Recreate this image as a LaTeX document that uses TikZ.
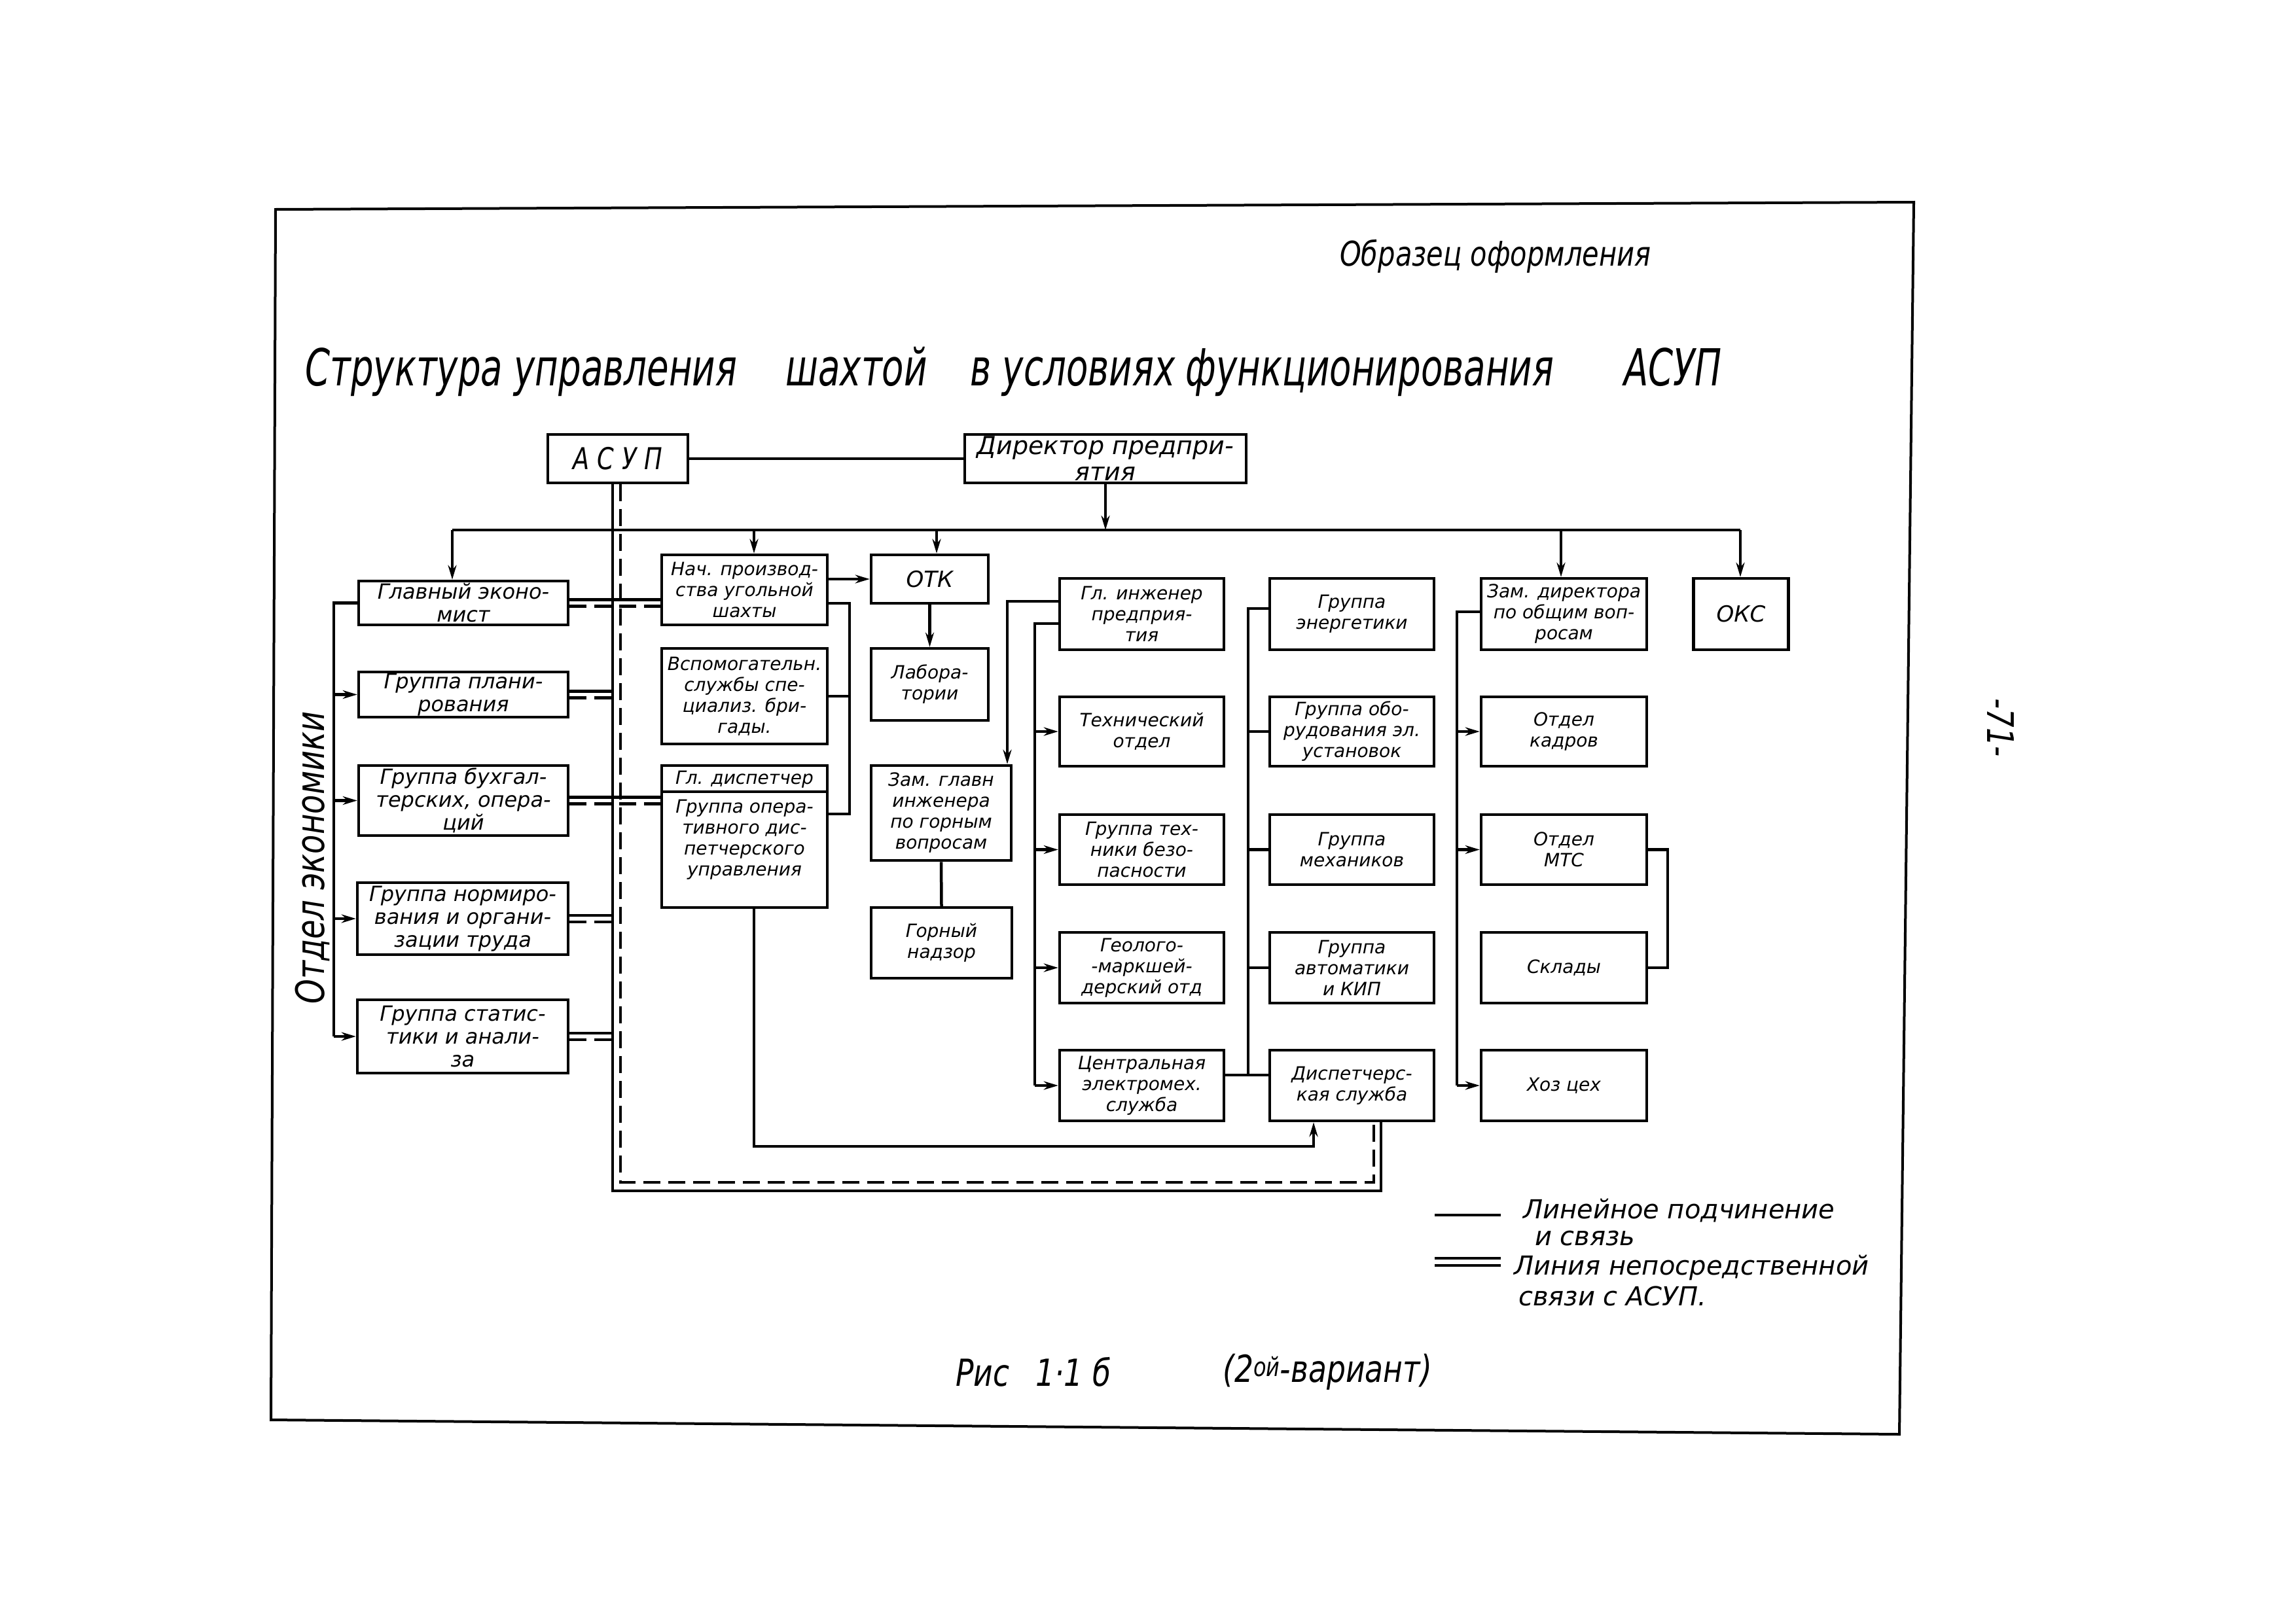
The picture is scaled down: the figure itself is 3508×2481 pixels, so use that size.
\documentclass[tikz,border=0pt]{standalone}
\usepackage{fontspec}
\setmainfont{DejaVu Sans}
\newfontfamily\cndfont{DejaVu Sans}[FakeStretch=0.8]
\newfontfamily\ttlfont{DejaVu Sans}[FakeStretch=0.7]
\usetikzlibrary{arrows.meta,calc}
\newcommand\fntA{\fontsize{32}{35}\selectfont\itshape}
\newcommand\fntB{\fontsize{28}{32}\selectfont\itshape}
\newcommand\fntC{\fontsize{38}{40}\selectfont\itshape}
\begin{document}
\begin{tikzpicture}[x=1pt,y=-1pt,
  boxA/.style={draw,line width=4.5pt,inner sep=0pt,align=center,font=\fntA},
  boxB/.style={draw,line width=4.5pt,inner sep=0pt,align=center,font=\fntB},
  txtB/.style={inner sep=0pt,align=center,font=\fntB},
  ln/.style={line width=4.5pt},
  dsh/.style={line width=4.5pt,dash pattern=on 26pt off 12pt},
  arr/.style={line width=4.5pt,-{Stealth[length=22pt,width=13pt]}},
  lbl/.style={inner sep=0pt,anchor=west,font=\fontsize{40}{44}\selectfont\itshape}]
\fill[white] (0,0) rectangle (3508,2481);
\useasboundingbox (0,0) rectangle (3508,2481);
% frame
\draw[line width=4pt] (421,320) -- (2924,309) -- (2902,2192) -- (414,2170) -- cycle;
% headings
\node[inner sep=0pt,anchor=west,font=\cndfont\fontsize{52}{56}\selectfont\itshape] (obr) at (2047,392) {Образец оформления};
\node[inner sep=0pt,anchor=west,font=\ttlfont\fontsize{78}{84}\selectfont\itshape] (title) at (466,568)
  {Структура\hspace{17pt}управления\hspace{74pt}шахтой\hspace{66pt}в\hspace{17pt}условиях\hspace{16pt}функционирования\hspace{107pt}АСУП};
\node[inner sep=0pt,rotate=-90,font=\cndfont\fontsize{56}{60}\selectfont\itshape] (pg) at (3057,1112) {-71-};
\node[inner sep=0pt,rotate=90,font=\cndfont\fontsize{60}{64}\selectfont\itshape] (otdel) at (477,1311) {Отдел экономики};
% top boxes
\node[draw,line width=4.5pt,inner sep=0pt,font=\cndfont\fontsize{46}{50}\selectfont\itshape,minimum width=214pt,minimum height=74pt] (asup) at (944,701) {А С У П};
\node[draw,line width=4.5pt,inner sep=0pt,align=center,font=\fntC,minimum width=430pt,minimum height=74pt] (dir) at (1689,701) {Директор предпри-\\ятия};
% economics column
\node[boxA,minimum width=320pt,minimum height=67pt] (ge) at (708,921.5) {Главный эконо-\\мист};
\node[boxA,minimum width=320pt,minimum height=69pt] (gp) at (708,1061.5) {Группа плани-\\рования};
\node[boxA,minimum width=320pt,minimum height=107pt] (gb) at (708,1223.5) {Группа бухгал-\\терских, опера-\\ций};
\node[boxA,minimum width=322pt,minimum height=110pt] (gn) at (707,1404) {Группа нормиро-\\вания и органи-\\зации труда};
\node[boxA,minimum width=322pt,minimum height=112pt] (gs) at (707,1584) {Группа статис-\\тики и анали-\\за};
% production column
\node[boxB,minimum width=253pt,minimum height=107pt] (np) at (1137.5,901.5) {Нач. производ-\\ства угольной\\шахты};
\node[boxB,minimum width=253pt,minimum height=146pt] (vs) at (1137.5,1064) {Вспомогательн.\\службы спе-\\циализ. бри-\\гады.};
\node[boxB,minimum width=253pt,minimum height=217pt] (gd) at (1137.5,1278.5) {};
\draw[ln] ($(gd.north west)+(0,42)$) -- ($(gd.north east)+(0,42)$);
\node[txtB] (gdt) at (1137.5,1191) {Гл. диспетчер};
\node[txtB,anchor=north] (gdb) at (1137.5,1222) {Группа опера-\\тивного дис-\\петчерского\\управления};
% OTK column
\node[boxB,font=\fontsize{34}{36}\selectfont\itshape,minimum width=179pt,minimum height=74pt] (otk) at (1420.5,885) {ОТК};
\node[boxB,minimum width=179pt,minimum height=110pt] (lab) at (1420.5,1046) {Лабора-\\тории};
\node[boxB,minimum width=214pt,minimum height=145pt] (zgi) at (1438,1242.5) {Зам. главн\\инженера\\по горным\\вопросам};
\node[boxB,minimum width=215pt,minimum height=108pt] (gnz) at (1438.5,1441) {Горный\\надзор};
% chief engineer column
\node[boxB,minimum width=251pt,minimum height=109pt] (gi) at (1744.5,938.5) {Гл. инженер\\предприя-\\тия};
\node[boxB,minimum width=251pt,minimum height=106pt] (tex) at (1744.5,1118) {Технический\\отдел};
\node[boxB,minimum width=251pt,minimum height=107pt] (gtb) at (1744.5,1298.5) {Группа тех-\\ники безо-\\пасности};
\node[boxB,minimum width=251pt,minimum height=108pt] (geo) at (1744.5,1479) {Геолого-\\-маркшей-\\дерский отд};
\node[boxB,minimum width=251pt,minimum height=108pt] (cem) at (1744.5,1659) {Центральная\\электромех.\\служба};
% energy column
\node[boxB,minimum width=251pt,minimum height=109pt] (ge2) at (2065.5,938.5) {Группа\\энергетики};
\node[boxB,minimum width=251pt,minimum height=106pt] (obo) at (2065.5,1118) {Группа обо-\\рудования эл.\\установок};
\node[boxB,minimum width=251pt,minimum height=107pt] (mex) at (2065.5,1298.5) {Группа\\механиков};
\node[boxB,minimum width=251pt,minimum height=108pt] (avt) at (2065.5,1479) {Группа\\автоматики\\и КИП};
\node[boxB,minimum width=251pt,minimum height=108pt] (disp) at (2065.5,1659) {Диспетчерс-\\кая служба};
% deputy director column
\node[boxB,minimum width=253pt,minimum height=109pt] (zd) at (2389.5,938.5) {Зам. директора\\по общим воп-\\росам};
\node[boxB,minimum width=253pt,minimum height=106pt] (okd) at (2389.5,1118) {Отдел\\кадров};
\node[boxB,minimum width=253pt,minimum height=107pt] (mts) at (2389.5,1298.5) {Отдел\\МТС};
\node[boxB,minimum width=253pt,minimum height=108pt] (skl) at (2389.5,1479) {Склады};
\node[boxB,minimum width=253pt,minimum height=108pt] (hoz) at (2389.5,1659) {Хоз цех};
\node[boxB,font=\fontsize{34}{36}\selectfont\itshape,minimum width=145pt,minimum height=109pt] (oks) at (2660,938.5) {ОКС};
% helper coordinates
\coordinate (busL) at (691,810);
\coordinate (busR) at (2659,810);
\coordinate (b1) at (1152,810);
\coordinate (b2) at (1431,810);
\coordinate (b3) at (2385,810);
\coordinate (nx) at (1298,922);
\coordinate (y1244) at (0,1244);
\coordinate (y1643) at (0,1643);
\coordinate (gz) at (1539,919);
\coordinate (gc) at (1581,953);
\coordinate (ec) at (1907,930);
\coordinate (zc) at (2226,935);
\coordinate (ms) at (2548,1299);
\coordinate (eL) at (510,0);
\coordinate (aS) at (936,0);
\coordinate (aD) at (948,0);
\coordinate (bS) at (0,1820);
\coordinate (bD) at (0,1807);
\coordinate (rS) at (2110,0);
\coordinate (rD) at (2099,0);
\coordinate (gdl) at (1152,1752);
\coordinate (dx) at (2007,0);
% director links
\draw[ln] (asup.east) -- (dir.west);
\draw[arr] (dir.south) -- (dir.south |- busL);
\draw[ln] (busL) -- (busR);
\draw[arr] (busL) -- (busL |- ge.north);
\draw[arr] (b1) -- (b1 |- np.north);
\draw[arr] (b2) -- (b2 |- otk.north);
\draw[arr] (b3) -- (b3 |- zd.north);
\draw[arr] (busR) -- (busR |- oks.north);
% production
\draw[arr] (np.east |- otk.west) -- (otk.west);
\draw[ln] (np.east |- nx) -- (nx) -- (nx |- y1244) -- (gd.east |- y1244);
\draw[ln] (vs.east) -- (vs.east -| nx);
\draw[arr] (otk.south) -- (lab.north);
\draw[ln] (zgi.south) -- (gnz.north);
% chief engineer
\draw[arr] (gi.west |- gz) -- (gz) -- (gz |- zgi.north);
\draw[ln] (gi.west |- gc) -- (gc) -- (gc |- cem.west);
\foreach \n in {tex,gtb,geo,cem}{\draw[arr] (gc |- \n.west) -- (\n.west);}
% energy bracket
\draw[ln] (ge2.west |- ec) -- (ec) -- (ec |- y1643) -- (disp.west |- y1643);
\foreach \n in {obo,mex,avt}{\draw[ln] (ec |- \n.west) -- (\n.west);}
\draw[ln] (cem.east |- y1643) -- (ec |- y1643);
% deputy director
\draw[ln] (zd.west |- zc) -- (zc) -- (zc |- hoz.west);
\foreach \n in {okd,mts,hoz}{\draw[arr] (zc |- \n.west) -- (\n.west);}
\draw[ln] (mts.east) -- (mts.east -| ms) -- (ms |- skl.east) -- (skl.east);
% economics bracket
\draw[ln] (ge.west) -- (ge.west -| eL) -- (gs.west -| eL);
\foreach \n in {gp,gb,gn,gs}{\draw[arr] (\n.west -| eL) -- (\n.west);}
% ASUP double lines
\draw[ln] (asup.south -| aS) -- (aS |- bS) -- (rS |- bS) -- (disp.south -| rS);
\draw[dsh] (asup.south -| aD) -- (aD |- bD) -- (rD |- bD) -- (disp.south -| rD);
\draw[ln] ($(ge.east)+(0,-5)$) -- ($(ge.east -| np.west)+(0,-5)$);
\draw[dsh] ($(ge.east)+(0,5)$) -- ($(ge.east -| np.west)+(0,5)$);
\draw[ln] ($(gb.east)+(0,-5)$) -- ($(gb.east -| gd.west)+(0,-5)$);
\draw[dsh] ($(gb.east)+(0,5)$) -- ($(gb.east -| gd.west)+(0,5)$);
\foreach \n in {gp,gn,gs}{
  \draw[ln] ($(\n.east)+(0,-5)$) -- ($(\n.east -| aS)+(0,-5)$);
  \draw[dsh] ($(\n.east)+(0,5)$) -- ($(\n.east -| aD)+(0,5)$);}
% dispatcher link
\draw[arr] (gd.south -| gdl) -- (gdl) -- (dx |- gdl) -- (disp.south -| dx);
% legend
\coordinate (lg1a) at (2192,1857);
\coordinate (lg1b) at (2293,1857);
\coordinate (lg2a) at (2192,1923);
\coordinate (lg2b) at (2293,1923);
\coordinate (lg3a) at (2192,1934);
\coordinate (lg3b) at (2293,1934);
\draw[ln] (lg1a) -- (lg1b);
\draw[line width=3.5pt] (lg2a) -- (lg2b);
\draw[line width=3.5pt] (lg3a) -- (lg3b);
\node[lbl] (l1) at (2327,1850) {Линейное подчинение};
\node[lbl] (l2) at (2345,1893) {и связь};
\node[lbl] (l3) at (2313,1937) {Линия непосредственной};
\node[lbl] (l4) at (2320,1981) {связи с АСУП.};
% caption
\node[inner sep=0pt,anchor=west,font=\cndfont\fontsize{57}{60}\selectfont\itshape] (cap1) at (1460,2097) {Рис\hspace{40pt}1·1 б};
\node[inner sep=0pt,anchor=west,font=\cndfont\fontsize{57}{60}\selectfont\itshape] (cap2) at (1868,2097) {(2\textsuperscript{ой}-вариант)};
\end{tikzpicture}
\end{document}
